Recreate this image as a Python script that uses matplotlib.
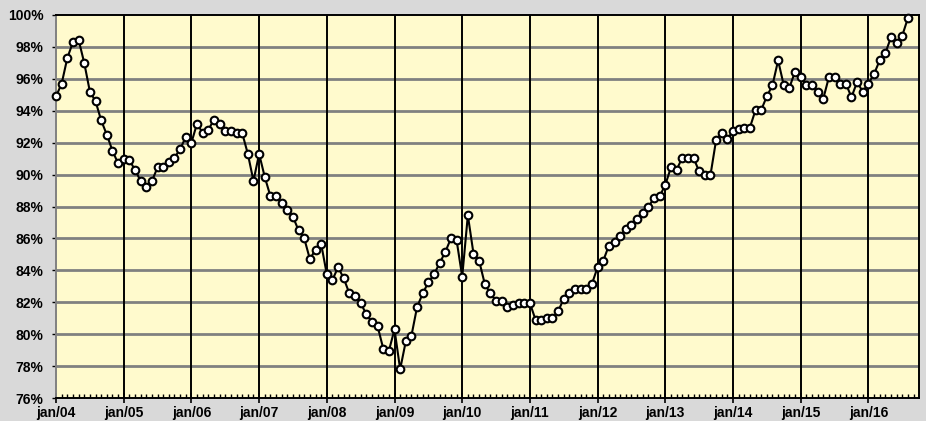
import numpy as np
import matplotlib
matplotlib.use("Agg")
import matplotlib.pyplot as plt
from matplotlib.ticker import MultipleLocator, FixedLocator

# monthly values, jan/04 .. aug/16 (percent)
y2004 = [94.9, 95.7, 97.3, 98.3, 98.45, 97.0, 95.2, 94.6, 93.4, 92.5, 91.5, 90.7]
y2005 = [91.0, 90.9, 90.3, 89.6, 89.25, 89.6, 90.45, 90.45, 90.8, 91.05, 91.6, 92.35]
y2006 = [92.0, 93.2, 92.6, 92.8, 93.45, 93.15, 92.7, 92.7, 92.6, 92.6, 91.3, 89.6]
y2007 = [91.3, 89.85, 88.65, 88.65, 88.2, 87.8, 87.35, 86.5, 86.0, 84.7, 85.3, 85.65]
y2008 = [83.75, 83.4, 84.2, 83.5, 82.55, 82.4, 81.95, 81.25, 80.75, 80.5, 79.1, 78.95]
y2009 = [80.3, 77.8, 79.55, 79.9, 81.7, 82.55, 83.25, 83.75, 84.45, 85.15, 86.0, 85.9]
y2010 = [83.6, 87.45, 85.05, 84.6, 83.15, 82.55, 82.1, 82.1, 81.7, 81.85, 81.95, 81.95]
y2011 = [81.95, 80.9, 80.9, 81.0, 81.0, 81.45, 82.2, 82.55, 82.8, 82.8, 82.8, 83.15]
y2012 = [84.2, 84.6, 85.55, 85.8, 86.15, 86.6, 86.85, 87.2, 87.6, 87.95, 88.55, 88.65]
y2013 = [89.35, 90.45, 90.3, 91.05, 91.05, 91.05, 90.2, 89.95, 89.95, 92.15, 92.6, 92.25]
y2014 = [92.7, 92.85, 92.95, 92.95, 94.05, 94.05, 94.9, 95.6, 97.15, 95.6, 95.45, 96.45]
y2015 = [96.1, 95.6, 95.6, 95.2, 94.75, 96.1, 96.1, 95.7, 95.7, 94.85, 95.8, 95.2]
y2016 = [95.7, 96.3, 97.15, 97.6, 98.6, 98.25, 98.7, 99.8]

values = np.array(y2004 + y2005 + y2006 + y2007 + y2008 + y2009 + y2010
                  + y2011 + y2012 + y2013 + y2014 + y2015 + y2016)
year_labels = ["jan/04", "jan/05", "jan/06", "jan/07", "jan/08", "jan/09", "jan/10",
               "jan/11", "jan/12", "jan/13", "jan/14", "jan/15", "jan/16"]
y_ticks = [76, 78, 80, 82, 84, 86, 88, 90, 92, 94, 96, 98, 100]

months = np.arange(len(values))

plt.rcParams["font.family"] = ["Liberation Sans", "DejaVu Sans"]

fig = plt.figure(figsize=(9.26, 4.21), dpi=100)
fig.patch.set_facecolor("#d9d9d9")
ax = fig.add_axes([0.0605, 0.0546, 0.9315, 0.9098])
ax.set_facecolor("#fffacd")

ax.set_xlim(0, 152.9)
ax.set_ylim(76, 100)

# gridlines
for v in y_ticks[1:-1]:
    ax.axhline(v, color="#808080", lw=2.0, zorder=1)
year_pos = [12 * i for i in range(len(year_labels))]
for p in year_pos[1:]:
    ax.axvline(p, color="black", lw=1.4, zorder=1)

ax.plot(months, values, color="black", lw=1.5, marker="o", ms=5.5,
        mfc="white", mec="black", mew=1.5, zorder=3, clip_on=False)

ax.yaxis.set_major_locator(FixedLocator(y_ticks))
ax.set_yticklabels([f"{v}%" for v in y_ticks])
ax.xaxis.set_major_locator(FixedLocator(year_pos))
ax.set_xticklabels(year_labels)
ax.xaxis.set_minor_locator(MultipleLocator(1))

ax.tick_params(axis="x", which="major", direction="inout", length=7, width=1.2,
               pad=2, labelsize=10)
ax.tick_params(axis="x", which="minor", direction="in", length=3, width=1)
ax.tick_params(axis="y", which="major", direction="out", length=3, width=1,
               pad=6, labelsize=10)
for lbl in ax.get_xticklabels() + ax.get_yticklabels():
    lbl.set_fontweight("bold")

for s in ax.spines.values():
    s.set_color("black")
    s.set_linewidth(1.4)
ax.spines["left"].set_color("#808080")

fig.savefig("out.png", dpi=100, facecolor=fig.get_facecolor())
